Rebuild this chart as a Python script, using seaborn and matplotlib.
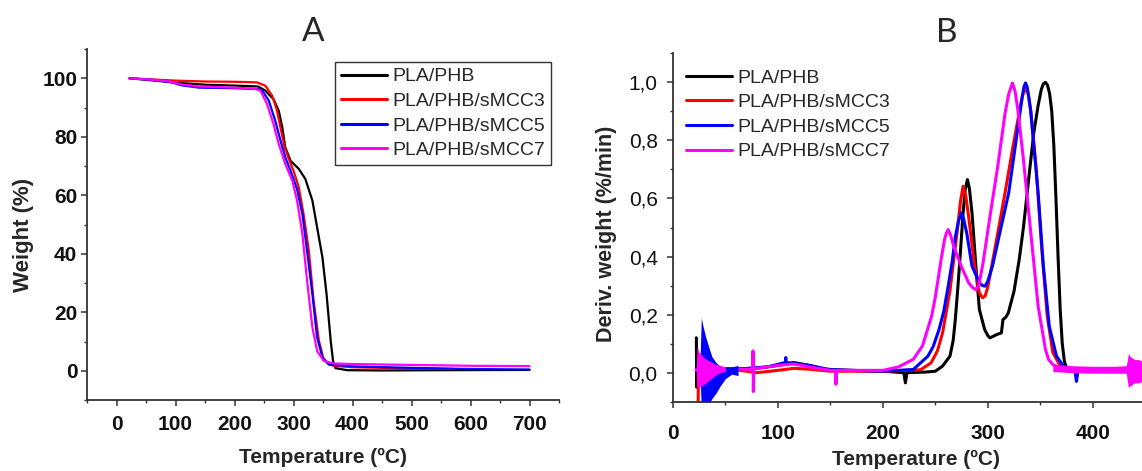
import pandas as pd
import matplotlib
matplotlib.use("Agg")
import matplotlib.pyplot as plt
from matplotlib.ticker import MultipleLocator, FuncFormatter
import seaborn as sns

samples = ["PLA/PHB", "PLA/PHB/sMCC3", "PLA/PHB/sMCC5", "PLA/PHB/sMCC7"]
palette = {"PLA/PHB": "#000000", "PLA/PHB/sMCC3": "#ff0000",
           "PLA/PHB/sMCC5": "#0000ff", "PLA/PHB/sMCC7": "#ff00ff"}

# --- panel A: TGA weight (%) ---
tga_t_black = [22, 60, 100, 150, 200, 240, 252, 266, 275, 281, 286, 295, 309, 320, 332, 340,
               349, 356, 363, 367, 371, 391, 450, 550, 700]
tga_w_black = [100, 99.3, 98.5, 97.8, 97.5, 97.2, 95.8, 92.9, 88.9, 83.2, 76.4, 71.8, 69.0, 65.6,
               58.2, 49.0, 38.8, 26.2, 10.3, 3.4, 0.9, 0.2, 0.1, 0.2, 0.3]
tga_t_red = [22, 60, 100, 150, 200, 238, 252, 264, 272, 278, 285, 292, 300, 309, 317, 326, 334,
             343, 351, 360, 368, 400, 500, 572]
tga_w_red = [100, 99.6, 99.2, 98.9, 98.8, 98.6, 97.5, 94.0, 89.0, 83.0, 76.4, 72.4, 68.4, 62.7,
             53.6, 41.0, 24.0, 10.3, 4.0, 2.3, 1.7, 1.2, 0.8, 0.6]
tga_t_blue = [22, 60, 90, 110, 140, 200, 240, 247, 258, 269, 278, 286, 295, 306, 315, 323, 332,
              340, 349, 360, 400, 500, 600, 700]
tga_w_blue = [100, 99.5, 98.8, 97.6, 96.8, 96.6, 96.3, 95.8, 92.4, 85.5, 78.7, 73.0, 68.4, 62.1,
              53.6, 41.0, 26.2, 11.4, 4.6, 2.1, 1.5, 1.0, 0.6, 0.4]
tga_t_mag = [22, 60, 90, 110, 140, 200, 235, 244, 255, 266, 275, 286, 298, 306, 315, 323, 332,
             340, 351, 368, 400, 500, 600, 700]
tga_w_mag = [100, 99.5, 98.9, 97.9, 97.2, 96.8, 96.4, 95.8, 91.2, 84.4, 77.5, 70.7, 65.0, 58.2,
             46.8, 30.8, 14.8, 6.8, 3.4, 2.5, 2.3, 2.0, 1.7, 1.6]

# --- panel B: DTG deriv. weight (%/min) ---
dtg_t_black = [22.3, 22.6, 23.5, 30, 50, 80, 100, 115, 130, 145, 170, 200, 220, 221.5, 223, 240,
               250, 257, 264, 267, 269, 271, 273, 276.5, 278.5, 280.6, 282.5, 285, 288.6, 292,
               297, 300, 302, 305, 309, 313, 314.5, 317, 319.5, 325, 330, 334, 337, 340, 344,
               348, 351, 353, 355, 357, 359, 361, 363, 365, 367, 369, 371, 373, 375, 380, 420, 447]
dtg_d_black = [0.12, -0.05, 0.01, 0.01, 0.012, 0.015, 0.025, 0.035, 0.025, 0.012, 0.008, 0.005,
               0.0, -0.035, 0.0, 0.002, 0.005, 0.023, 0.057, 0.11, 0.18, 0.27, 0.367, 0.55, 0.63,
               0.665, 0.635, 0.55, 0.37, 0.218, 0.149, 0.128, 0.12, 0.125, 0.132, 0.137, 0.183,
               0.19, 0.205, 0.28, 0.39, 0.5, 0.6, 0.7, 0.83, 0.92, 0.975, 0.995, 1.0, 0.99, 0.96,
               0.9, 0.78, 0.6, 0.4, 0.22, 0.1, 0.04, 0.015, 0.008, 0.005, 0.005]
dtg_t_red = [24.0, 24.3, 30, 60, 80, 100, 115, 130, 150, 200, 236, 246, 252, 257, 264, 271, 274,
             276.5, 279, 281.7, 287, 292, 295, 297.5, 300, 302.6, 309.5, 316.5, 323.5, 330.5,
             333, 336, 338.5, 341, 346, 351.5, 356.7, 362, 369, 380, 447]
dtg_d_red = [-0.1, 0.01, 0.01, 0.01, 0.0, 0.008, 0.015, 0.012, 0.005, 0.005, 0.01, 0.034, 0.075,
             0.138, 0.283, 0.49, 0.59, 0.642, 0.61, 0.54, 0.38, 0.275, 0.258, 0.264, 0.295, 0.344,
             0.48, 0.62, 0.768, 0.906, 0.955, 0.98, 0.96, 0.9, 0.71, 0.424, 0.195, 0.07, 0.023,
             0.01, 0.008]
dtg_t_blue = [26, 45, 60, 90, 107, 107.5, 108, 130, 150, 200, 229, 243, 248, 253.6, 258, 262.3,
              266, 269.2, 272, 274.7, 277, 280, 285, 292, 295, 297.5, 300, 304.5, 311.4, 320,
              327, 332.5, 334.5, 336, 337.5, 339.5, 341, 348, 353, 358.6, 365.5, 372, 383,
              384.5, 386, 447]
dtg_d_blue = [0.01, 0.015, 0.012, 0.02, 0.035, 0.052, 0.035, 0.025, 0.01, 0.005, 0.011, 0.057,
              0.09, 0.149, 0.21, 0.298, 0.38, 0.47, 0.52, 0.55, 0.53, 0.48, 0.367, 0.31, 0.3,
              0.298, 0.315, 0.367, 0.48, 0.62, 0.80, 0.94, 0.985, 0.998, 0.985, 0.94, 0.9, 0.62,
              0.367, 0.16, 0.057, 0.023, 0.01, -0.03, 0.005, 0.005]
dtg_t_mag = [22, 50, 76, 76.3, 76.6, 77, 80, 100, 115, 130, 150, 155, 155.3, 156, 200, 215, 229,
             237.8, 246.5, 250, 253.6, 256, 258.8, 260.5, 262.3, 264.5, 267.5, 274.7, 281.7, 285,
             288.6, 291.5, 295.6, 302.6, 309.5, 316.5, 320, 323.5, 326, 328.7, 334, 341, 348,
             355, 358, 362, 368, 380, 434]
dtg_d_mag = [0.01, 0.012, 0.012, 0.075, -0.065, 0.012, 0.015, 0.025, 0.03, 0.02, 0.008, 0.008,
             -0.04, 0.008, 0.008, 0.02, 0.046, 0.092, 0.195, 0.26, 0.344, 0.4, 0.458, 0.48, 0.493,
             0.475, 0.436, 0.367, 0.31, 0.295, 0.286, 0.3, 0.38, 0.55, 0.71, 0.894, 0.96, 0.998,
             0.97, 0.905, 0.734, 0.482, 0.229, 0.08, 0.045, 0.028, 0.018, 0.012, 0.01]

# noisy bands (envelope)
noise_t_blue = [25.5, 27, 28, 31, 34, 37, 41, 45, 50, 56, 62]
noise_hi_blue = [0.01, 0.19, 0.17, 0.125, 0.09, 0.056, 0.035, 0.022, 0.02, 0.02, 0.025]
noise_lo_blue = [0.01, -0.12, -0.12, -0.12, -0.11, -0.09, -0.07, -0.046, -0.02, -0.005, -0.01]
noise_t_mag_start = [22, 23, 25, 30, 35, 40, 45, 50]
noise_hi_mag_start = [0.01, 0.09, 0.07, 0.05, 0.04, 0.03, 0.025, 0.02]
noise_lo_mag_start = [0.01, -0.05, -0.05, -0.04, -0.025, -0.01, 0.0, 0.005]
noise_t_mag_end = [362, 380, 400, 420, 432, 434, 436, 440, 444, 447]
noise_hi_mag_end = [0.028, 0.024, 0.022, 0.022, 0.024, 0.065, 0.055, 0.045, 0.045, 0.04]
noise_lo_mag_end = [0.004, 0.0, -0.002, -0.002, -0.002, -0.05, -0.045, -0.035, -0.035, -0.03]


def long_df(pairs):
    frames = []
    for name, (t, v) in zip(samples, pairs):
        frames.append(pd.DataFrame({"T": t, "v": v, "sample": name}))
    return pd.concat(frames, ignore_index=True)


tga = long_df([(tga_t_black, tga_w_black), (tga_t_red, tga_w_red),
               (tga_t_blue, tga_w_blue), (tga_t_mag, tga_w_mag)])
dtg = long_df([(dtg_t_black, dtg_d_black), (dtg_t_red, dtg_d_red),
               (dtg_t_blue, dtg_d_blue), (dtg_t_mag, dtg_d_mag)])

sns.set_theme(style="ticks")
plt.rcParams["font.family"] = ["Liberation Sans", "DejaVu Sans"]
spine_col = "#333333"

fig = plt.figure(figsize=(11.42, 4.71), dpi=100)
axA = fig.add_axes([0.0762, 0.1507, 0.4133, 0.7452])
axB = fig.add_axes([0.5893, 0.1471, 0.4107, 0.7397])

# panel A
sns.lineplot(data=tga, x="T", y="v", hue="sample", hue_order=samples, palette=palette,
             estimator=None, sort=False, linewidth=1.6, ax=axA)
axA.set_xlim(-50, 750)
axA.set_ylim(-10, 110)
axA.xaxis.set_major_locator(MultipleLocator(100))
axA.xaxis.set_minor_locator(MultipleLocator(50))
axA.yaxis.set_major_locator(MultipleLocator(20))
axA.yaxis.set_minor_locator(MultipleLocator(10))
axA.set_xlabel("Temperature (ºC)", fontsize=15, fontweight="bold")
axA.set_ylabel("Weight (%)", fontsize=16, fontweight="bold")
for lab in axA.get_xticklabels() + axA.get_yticklabels():
    lab.set_fontweight("bold")
h, l = axA.get_legend_handles_labels()
legA = axA.legend(h, l, loc="upper left", bbox_to_anchor=(335 / 1142, 1 - 62 / 471),
                  bbox_transform=fig.transFigure, fontsize=14, frameon=True, fancybox=False,
                  framealpha=1, edgecolor=spine_col, handlelength=2.37, handletextpad=0.26,
                  labelspacing=0.36, borderpad=0.3, borderaxespad=0)
legA.get_frame().set_linewidth(1.0)
for ln in legA.get_lines():
    ln.set_linewidth(2.2)

# panel B
bands = [(noise_t_blue, noise_lo_blue, noise_hi_blue, palette["PLA/PHB/sMCC5"], 2),
         (noise_t_mag_start, noise_lo_mag_start, noise_hi_mag_start, palette["PLA/PHB/sMCC7"], 5),
         (noise_t_mag_end, noise_lo_mag_end, noise_hi_mag_end, palette["PLA/PHB/sMCC7"], 5)]
sns.lineplot(data=dtg, x="T", y="v", hue="sample", hue_order=samples, palette=palette,
             estimator=None, sort=False, linewidth=2.2, ax=axB)
for t, lo, hi, c, z in bands:
    axB.fill_between(t, lo, hi, color=c, linewidth=0, zorder=z)
axB.set_xlim(0, 447)
axB.set_ylim(-0.1, 1.1)
axB.xaxis.set_major_locator(MultipleLocator(100))
axB.xaxis.set_minor_locator(MultipleLocator(50))
axB.yaxis.set_major_locator(MultipleLocator(0.2))
axB.yaxis.set_minor_locator(MultipleLocator(0.1))
axB.yaxis.set_major_formatter(FuncFormatter(lambda v, p: f"{v:.1f}".replace(".", ",")))
axB.set_xlabel("Temperature (ºC)", fontsize=15, fontweight="bold")
axB.set_ylabel("Deriv. weight (%/min)", fontsize=15.5, fontweight="bold")
for lab in axB.get_xticklabels():
    lab.set_fontweight("bold")
h, l = axB.get_legend_handles_labels()
legB = axB.legend(h, l, loc="upper left", bbox_to_anchor=(686 / 1142, 1 - 69 / 471),
                  bbox_transform=fig.transFigure, fontsize=14, frameon=False,
                  handlelength=2.37, handletextpad=0.26, labelspacing=0.36, borderpad=0.0,
                  borderaxespad=0)
for ln in legB.get_lines():
    ln.set_linewidth(2.2)

for ax in (axA, axB):
    sns.despine(ax=ax)
    for s in ("left", "bottom"):
        ax.spines[s].set_color(spine_col)
        ax.spines[s].set_linewidth(1.3)
    ax.tick_params(which="major", direction="out", length=4, width=1.1, color=spine_col,
                   labelsize=15, labelcolor="#111111")
    ax.tick_params(which="minor", direction="out", length=2.5, width=1.0, color=spine_col)
    ax.xaxis.label.set_va("center")
    ax.yaxis.label.set_va("center")

axA.tick_params(axis="x", which="major", pad=7)
axA.tick_params(axis="y", which="major", pad=3)
axB.tick_params(axis="x", which="major", pad=12)
axB.tick_params(axis="y", which="major", pad=7)

axA.xaxis.set_label_coords(0.5006, -0.165)
axA.yaxis.set_label_coords(-0.1356, 0.4715)
axB.xaxis.set_label_coords(0.518, -0.167)
axB.yaxis.set_label_coords(-0.141, 0.483)

fig.text(313 / 1142, 1 - 32 / 471, "A", fontsize=24, family=["Lato", "DejaVu Sans"],
         ha="center", va="center")
fig.text(947 / 1142, 1 - 33 / 471, "B", fontsize=24, family=["Lato", "DejaVu Sans"],
         ha="center", va="center")

fig.savefig("out.png", dpi=100)
